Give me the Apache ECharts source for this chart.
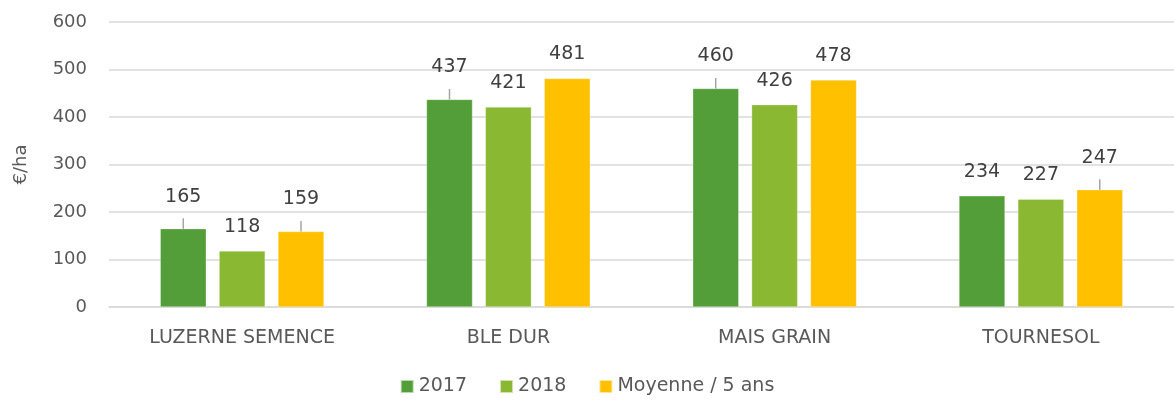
<!DOCTYPE html>
<html><head><meta charset="utf-8">
<script src="https://cdn.jsdelivr.net/npm/echarts@6/dist/echarts.min.js"></script>
<style>html,body{margin:0;padding:0;background:#fff}#c{width:1174px;height:401px}</style>
</head><body><div id="c"></div>
<script>
const categories = ['LUZERNE SEMENCE', 'BLE DUR', 'MAIS GRAIN', 'TOURNESOL'];
const v2017 = [165, 437, 460, 234];
const v2018 = [118, 421, 426, 227];
const vMoy = [159, 481, 478, 247];
const yTicks = [0, 100, 200, 300, 400, 500, 600];
// labels lifted with a leader line: [seriesIndex][dataIndex]
const lifted = [[true, true, true, false], [false, false, false, false], [true, false, false, true]];

const font = '"DejaVu Sans", Verdana, sans-serif';
const colors = ['#549E39', '#8AB833', '#FFC000'];
function mk(name, data, si) {
  return {
    name: name, type: 'bar', barWidth: 46, barGap: '28%',
    itemStyle: { color: colors[si], borderColor: 'rgba(255,255,255,0.6)', borderWidth: 0.5 },
    data: data.map((v, i) => ({
      value: v,
      labelLine: { show: lifted[si][i], lineStyle: { color: '#A6A6A6', width: 1.5 } }
    })),
    label: {
      show: true, position: 'top', distance: 4,
      formatter: '{v|{c}}\n{g|}',
      rich: {
        v: { color: '#404040', fontSize: 19, fontFamily: font, lineHeight: 22 },
        g: { height: 9, lineHeight: 9 }
      }
    },
    labelLayout: function (p) { return lifted[si][p.dataIndex] ? { dy: -8 } : {}; },
    labelLine: { show: false, length2: 0 }
  };
}
const chart = echarts.init(document.getElementById('c'), null, { renderer: 'canvas' });
chart.setOption({
  animation: false,
  textStyle: { fontFamily: font },
  grid: { left: 109, right: 0, top: 22, bottom: 94 },
  legend: {
    bottom: 0, left: 'center', itemWidth: 13, itemHeight: 13, itemGap: 32, itemTextGap: 4,
    icon: 'rect',
    textStyle: { color: '#595959', fontSize: 19, fontFamily: font },
    data: ['2017', '2018', 'Moyenne / 5 ans']
  },
  xAxis: {
    type: 'category', data: categories,
    axisLine: { lineStyle: { color: '#D9D9D9', width: 1.5 } },
    axisTick: { show: false },
    axisLabel: { color: '#595959', fontSize: 19, margin: 22, fontFamily: font }
  },
  yAxis: {
    type: 'value', min: yTicks[0], max: yTicks[yTicks.length - 1], interval: 100,
    name: '€/ha', nameLocation: 'middle', nameGap: 79, nameRotate: 90,
    nameTextStyle: { color: '#595959', fontSize: 18, fontFamily: font },
    axisLine: { show: false }, axisTick: { show: false },
    axisLabel: { color: '#595959', fontSize: 18, margin: 22, fontFamily: font },
    splitLine: { lineStyle: { color: '#D9D9D9', width: 1.5 } }
  },
  series: [mk('2017', v2017, 0), mk('2018', v2018, 1), mk('Moyenne / 5 ans', vMoy, 2)]
});
</script></body></html>
